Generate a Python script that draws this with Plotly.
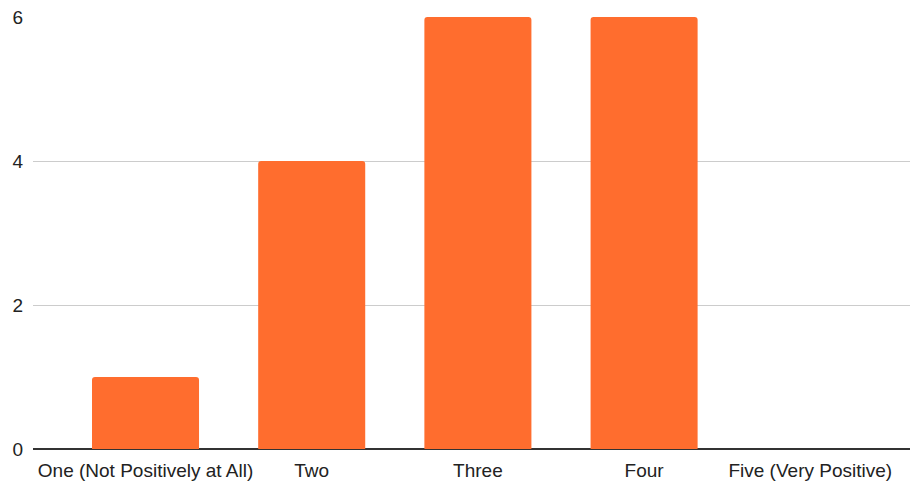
import plotly.graph_objects as go

categories = ["One (Not Positively at All)", "Two", "Three", "Four", "Five (Very Positive)"]
values = [1, 4, 6, 6, 0]
y_ticks = [0, 2, 4, 6]

fig = go.Figure(go.Bar(
    x=list(range(len(categories))),
    y=values,
    marker=dict(color="#FF6D2E", line=dict(width=0)),
    width=0.644,
))

fig.update_layout(
    width=911, height=485,
    margin=dict(l=33, r=1, t=17, b=36),
    paper_bgcolor="white", plot_bgcolor="white",
    barcornerradius=3,
    font=dict(family="Liberation Sans, Arial, sans-serif", size=19, color="#222222"),
    showlegend=False,
)
fig.update_xaxes(
    range=[-0.677, 4.600],
    tickmode="array", tickvals=list(range(len(categories))), ticktext=categories,
    showgrid=False, zeroline=False, showline=False, ticks="",
    ticklabelstandoff=8,
)
fig.update_yaxes(
    range=[0, 6], tickmode="array", tickvals=y_ticks,
    showgrid=True, gridcolor="#cccccc", gridwidth=1,
    zeroline=True, zerolinecolor="#333333", zerolinewidth=1.5,
    showline=False, ticks="", ticklabelstandoff=9,
)

fig.write_html("out.html")
